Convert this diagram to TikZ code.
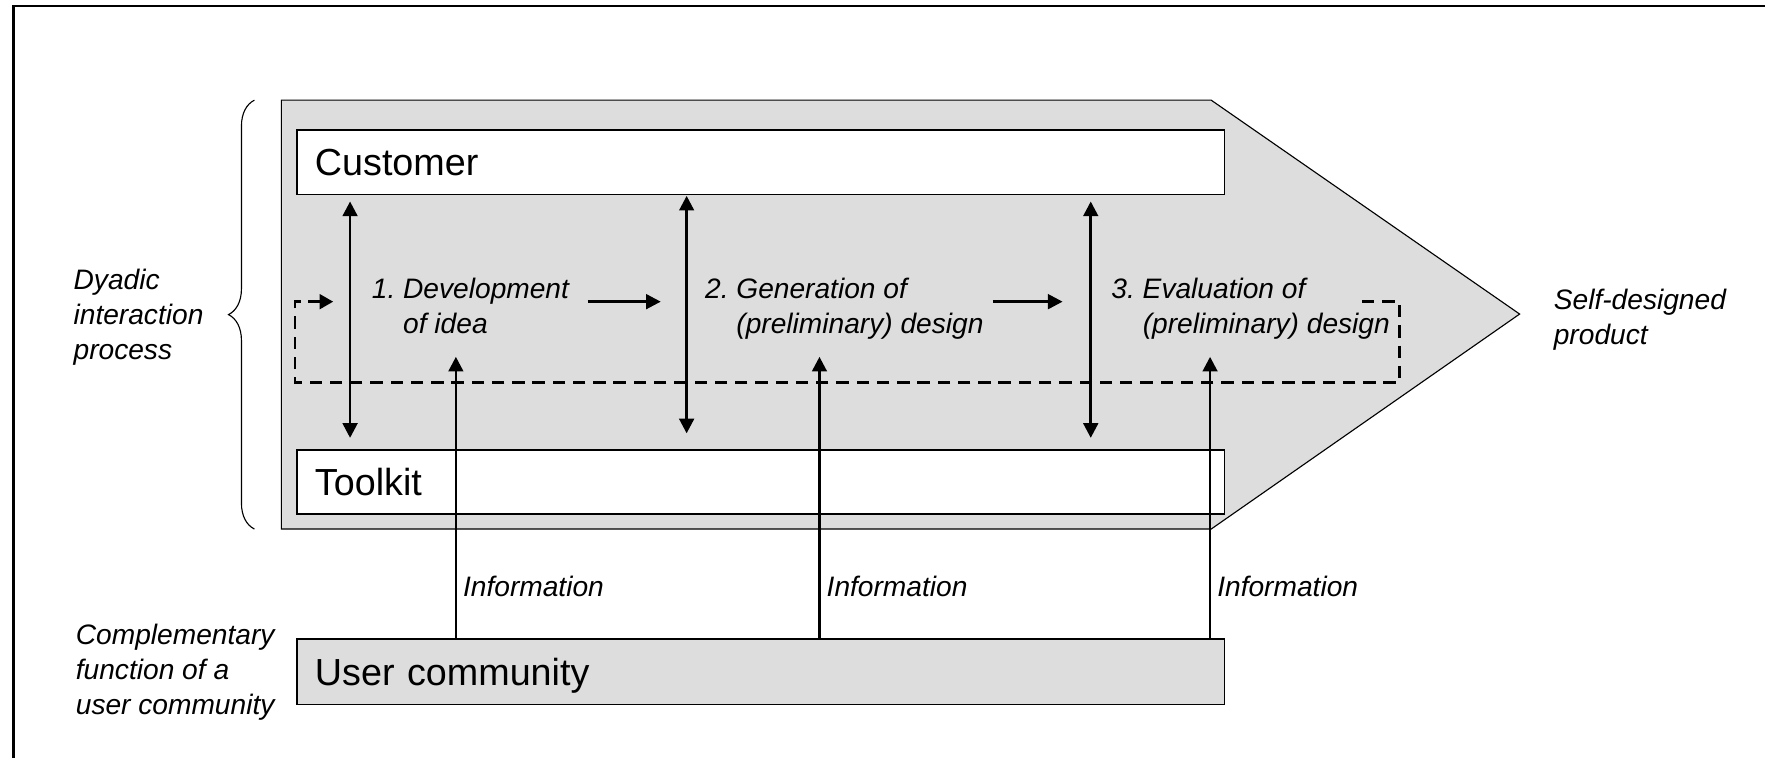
\documentclass[tikz,border=0pt]{standalone}
\usepackage{fontspec}
\setmainfont{Liberation Sans}
\usepackage{tikz}
\usetikzlibrary{arrows.meta}
\usetikzlibrary{decorations.pathreplacing}
\definecolor{panelgray}{HTML}{DDDDDD}
\newcommand{\txtstack}[1]{\begin{tabular}[t]{@{}l@{}}#1\end{tabular}}
\newcommand{\stage}[3]{\begin{tabular}[t]{@{}l@{\ }l@{}}#1&#2\\&#3\end{tabular}}
\tikzset{box/.style={draw, line width=0.8pt, fill=white, anchor=north west, minimum width=412pt, minimum height=28.5pt, inner xsep=8pt, text width=396pt, align=left, text depth=0pt, font=\fontsize{16.75}{20}\selectfont}}
\tikzset{lbl/.style={inner sep=0pt, anchor=base west, font=\fontsize{12.5}{15.5}\selectfont\itshape}}
\tikzset{oneway/.style={line width=1.2pt, -{Triangle[length=6.5pt,width=6.5pt]}}}
\tikzset{twoway/.style={line width=1.2pt, {Triangle[length=6.5pt,width=6.5pt]}-{Triangle[length=6.5pt,width=6.5pt]}}}
\tikzset{feedback/.style={line width=1.2pt, dash pattern=on 5.5pt off 3.5pt, -{Triangle[length=6pt,width=6.5pt]}}}

\begin{document}
\begin{tikzpicture}[x=0.5pt,y=-0.5pt]
\useasboundingbox (0,0) rectangle (1568,673);
{
\draw[line width=0.9pt] (1568,5) -- (12,5) -- (12,673);
\draw[line width=0.5pt, fill=panelgray] (250,89) -- (1076,89) -- (1350,279) -- (1076,470) -- (250,470) -- cycle;
\draw[line width=0.5pt, decorate, decoration={brace, amplitude=11.5pt}] (226,470) -- (226,89);

\node[box] (customer) at (263,115) {Customer};
\node[box] (toolkit) at (263,399) {Toolkit};
\node[box, fill=panelgray, minimum height=29pt] (uc) at (263,567) {User community};

\coordinate (fbout) at (1210,268);
\coordinate (fbin) at (296,268);
\draw[feedback] (fbout) -- (1243,268) -- (1243,340) -- (262,340) -- (262,268) -- (fbin);

\foreach \n/\x/\a/\b in {1/311/179/389, 2/610/174/385, 3/969/179/389}
{
\coordinate (up\n) at (\x,\a);
\coordinate (dn\n) at (\x,\b);
\draw[twoway] (up\n) -- (dn\n);
}

\coordinate (h1a) at (522,268);
\coordinate (h1b) at (587,268);
\coordinate (h2a) at (882,268);
\coordinate (h2b) at (944,268);
\draw[oneway] (h1a) -- (h1b);
\draw[oneway] (h2a) -- (h2b);

\foreach \n/\x in {1/405, 2/728, 3/1075}
{
\coordinate (tip\n) at (\x,317);
\draw[oneway] (uc.north -| tip\n) -- (tip\n);
\node[lbl] (info\n) at (\x+6,530) {Information};
}

\node[lbl] (s1) at (330,265) {\stage{1.}{Development}{of idea}};
\node[lbl] (s2) at (626,265) {\stage{2.}{Generation of}{(preliminary) design}};
\node[lbl] (s3) at (987,265) {\stage{3.}{Evaluation of}{(preliminary) design}};

\node[lbl] (dyadic) at (65,257) {\txtstack{Dyadic\\interaction\\process}};
\node[lbl] (product) at (1380,275) {\txtstack{Self-designed\\product}};
\node[lbl] (complement) at (67,573) {\txtstack{Complementary\\function of a\\user community}};
}
\end{tikzpicture}
\end{document}
